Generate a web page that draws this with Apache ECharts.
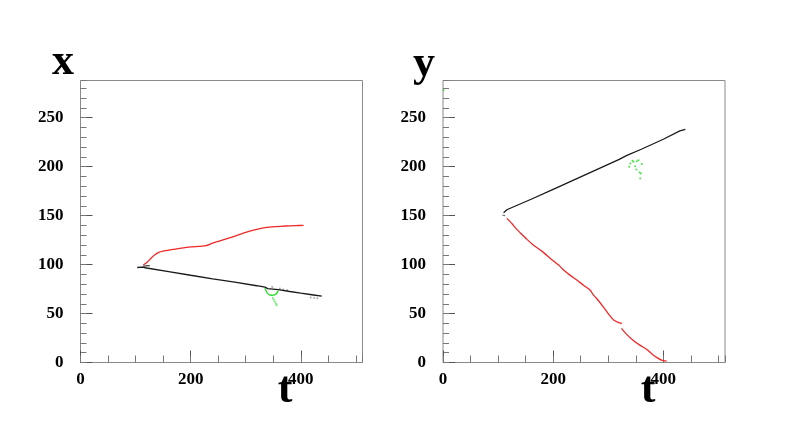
<!DOCTYPE html>
<html>
<head>
<meta charset="utf-8">
<script src="https://cdn.jsdelivr.net/npm/echarts@6/dist/echarts.min.js"></script>
<style>
  html, body { margin: 0; padding: 0; background: #fff; }
  #chart { width: 806px; height: 443px; }
</style>
</head>
<body>
<div id="chart"></div>
<script>
// axis ranges / ticks
const tMax = 512;
const vMax = 288;
const tLabelStep = 200;
const tMinorStep = 50;
const vLabelStep = 50;
const vMinorStep = 10;

// left panel: x vs t
const redXT = [114, 122, 129, 135, 142, 150, 165, 180, 200, 215, 228, 240, 260, 278, 300, 320, 338, 355, 372, 390, 405];
const redX  = [99.5, 103, 107, 110, 112.5, 113.8, 115.2, 116.5, 118, 118.6, 119.3, 122, 125.5, 128.5, 133, 136, 138, 138.8, 139.4, 139.8, 140];
const blackXT = [103, 112, 120, 160, 200, 240, 280, 320, 335, 340, 359, 380, 400, 420, 438];
const blackX  = [97, 97.4, 96.5, 92.8, 89.1, 85.5, 82, 78.4, 77, 75.5, 74.4, 72.5, 70.8, 69.2, 67.7];
const blackHookXT = [113, 120, 126];
const blackHookX  = [98.2, 98.8, 99];
const greenXT = [335, 338, 342, 347, 352, 356, 359];
const greenX  = [76, 72, 69.5, 68.7, 69, 70.5, 73.5];
const greenDotXT = [349, 351, 353, 355, 356];
const greenDotX  = [66, 64, 62, 60, 58.5];
const grayDotXT = [348, 362, 368, 375, 418, 424, 430];
const grayDotX  = [77, 75.5, 74.5, 74, 66.5, 66, 65.5];

// right panel: y vs t
const redYT = [116, 125, 133, 140, 152, 164, 180, 195, 210, 219, 230, 243, 255, 267, 273, 279, 291, 300, 310, 318, 325];
const redY  = [147.2, 142, 136.5, 132.6, 126, 120, 113.5, 106.3, 99.5, 94.4, 89.5, 84.2, 79, 74, 69, 65.4, 56.9, 50, 43.3, 41, 39.9];
const redY2T = [324, 333, 345, 358, 370, 382, 390, 397, 406];
const redY2  = [34.8, 29, 22.8, 17.5, 13.3, 7.5, 4.5, 2.4, 1.4];
const blackYT = [110, 116, 120, 160, 200, 240, 280, 320, 334, 360, 400, 430, 440];
const blackY  = [153, 156, 157, 166.7, 176.9, 187.1, 197.3, 207.5, 211.5, 217.8, 228, 236.5, 238.2];
const blackHookYT = [108, 111, 113];
const blackHookY  = [150.5, 151.5, 150];
const greenYT = [340, 346, 352, 361, 349, 351, 357, 359, 358, 338, 344, 355, 1];
const greenY  = [203.3, 204.9, 205.6, 202.6, 200.5, 197.1, 194, 193, 188, 199.8, 206, 206.5, 278];

const pairs = (a, b) => a.map((v, i) => [v, b[i]]);

const serif = '"Liberation Serif", "DejaVu Serif", serif';
const frameColor = '#8a8a8a';

function mainX(gi) {
  return {
    gridIndex: gi, type: 'value', min: 0, max: tMax, interval: tLabelStep,
    axisLine: { show: false },
    axisTick: { inside: true, length: 12, lineStyle: { color: '#555' } },
    axisLabel: { showMaxLabel: false, margin: 9, color: '#000', fontFamily: serif, fontWeight: 'bold', fontSize: 17 },
    splitLine: { show: false }
  };
}
function minorX(gi) {
  return {
    gridIndex: gi, type: 'value', min: 0, max: tMax, interval: tMinorStep, position: 'bottom',
    axisLine: { show: false },
    axisTick: { inside: true, length: 7, lineStyle: { color: '#777' } },
    axisLabel: { show: false }, splitLine: { show: false }
  };
}
function mainY(gi) {
  return {
    gridIndex: gi, type: 'value', min: 0, max: vMax, interval: vLabelStep,
    axisLine: { show: false },
    axisTick: { inside: true, length: 12, lineStyle: { color: '#555' } },
    axisLabel: { showMaxLabel: false, margin: 17, color: '#000', fontFamily: serif, fontWeight: 'bold', fontSize: 17 },
    splitLine: { show: false }
  };
}
function minorY(gi) {
  return {
    gridIndex: gi, type: 'value', min: 0, max: vMax, interval: vMinorStep, position: 'left', offset: 0,
    axisLine: { show: false },
    axisTick: { inside: true, length: 6, lineStyle: { color: '#777' } },
    axisLabel: { show: false }, splitLine: { show: false }
  };
}

function lineSeries(xi, yi, data, color, smooth) {
  return {
    type: 'line', xAxisIndex: xi, yAxisIndex: yi, data: data,
    showSymbol: false, smooth: smooth, animation: false,
    lineStyle: { color: color, width: 1.3 }
  };
}
function dotSeries(xi, yi, data, color) {
  return {
    type: 'scatter', xAxisIndex: xi, yAxisIndex: yi, data: data,
    symbolSize: 2, animation: false, itemStyle: { color: color }
  };
}

const chart = echarts.init(document.getElementById('chart'));
chart.setOption({
  backgroundColor: '#fff',
  animation: false,
  grid: [
    { left: 80.5, top: 80.5, width: 282, height: 282, show: true, borderColor: frameColor, borderWidth: 1, backgroundColor: 'transparent' },
    { left: 443, top: 80.5, width: 282, height: 282, show: true, borderColor: frameColor, borderWidth: 1, backgroundColor: 'transparent' }
  ],
  xAxis: [mainX(0), minorX(0), mainX(1), minorX(1)],
  yAxis: [mainY(0), minorY(0), mainY(1), minorY(1)],
  series: [
    lineSeries(0, 0, pairs(redXT, redX), '#f02828', 0.2),
    lineSeries(0, 0, pairs(blackXT, blackX), '#1a1a1a', false),
    lineSeries(0, 0, pairs(blackHookXT, blackHookX), '#555', false),
    lineSeries(0, 0, pairs(greenXT, greenX), '#22dd22', 0.3),
    dotSeries(0, 0, pairs(greenDotXT, greenDotX), '#44ee44'),
    dotSeries(0, 0, pairs(grayDotXT, grayDotX), '#999'),
    lineSeries(2, 2, pairs(redYT, redY), '#f02828', 0.2),
    lineSeries(2, 2, pairs(redY2T, redY2), '#f02828', 0.2),
    lineSeries(2, 2, pairs(blackYT, blackY), '#1a1a1a', false),
    lineSeries(2, 2, pairs(blackHookYT, blackHookY), '#777', false),
    dotSeries(2, 2, pairs(greenYT, greenY), '#22dd22')
  ],
  graphic: [
    { type: 'text', style: { text: 'x', x: 63, y: 63, textAlign: 'center', textVerticalAlign: 'middle', font: 'bold 44px ' + serif, fill: '#000' } },
    { type: 'text', style: { text: 't', x: 285, y: 391, textAlign: 'center', textVerticalAlign: 'middle', font: 'bold 44px ' + serif, fill: '#000' } },
    { type: 'text', style: { text: 'y', x: 424, y: 65, textAlign: 'center', textVerticalAlign: 'middle', font: 'bold 44px ' + serif, fill: '#000' } },
    { type: 'text', style: { text: 't', x: 648, y: 391, textAlign: 'center', textVerticalAlign: 'middle', font: 'bold 44px ' + serif, fill: '#000' } }
  ]
});
</script>
</body>
</html>
